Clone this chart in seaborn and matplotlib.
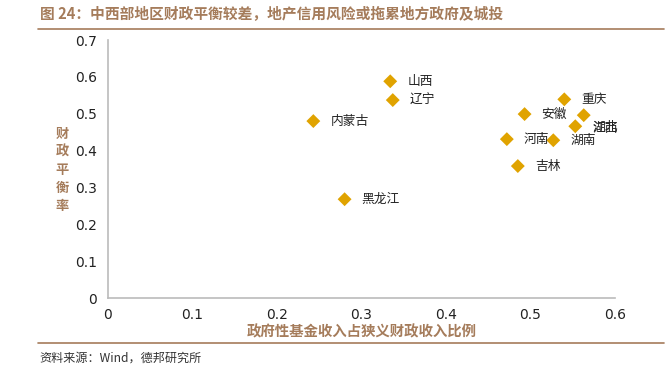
import matplotlib
matplotlib.use("Agg")
import matplotlib.pyplot as plt
import seaborn as sns
import pandas as pd
from matplotlib.lines import Line2D

# 数据：政府性基金收入占狭义财政收入比例 vs 财政平衡率
provinces = ["山西", "辽宁", "内蒙古", "黑龙江", "重庆", "安徽",
             "湖北", "江西", "河南", "湖南", "吉林"]
fund_ratio = [0.334, 0.337, 0.243, 0.280, 0.540, 0.493,
              0.563, 0.553, 0.472, 0.527, 0.485]
balance_ratio = [0.588, 0.537, 0.480, 0.268, 0.539, 0.499,
                 0.496, 0.466, 0.431, 0.428, 0.358]

df = pd.DataFrame({"省份": provinces, "x": fund_ratio, "y": balance_ratio})

BROWN = "#A57C5B"
GOLD = "#E0A300"
W, H = 668, 368

sns.set_style("white")
plt.rcParams["font.family"] = ["Noto Sans CJK SC", "DejaVu Sans"]
plt.rcParams["axes.unicode_minus"] = False

fig = plt.figure(figsize=(W / 100, H / 100), dpi=100)
ax = fig.add_axes([108 / W, 1 - 298 / H, (615 - 108) / W, (298 - 40) / H])

sns.scatterplot(data=df, x="x", y="y", marker="D", color=GOLD,
                s=50, edgecolor="none", ax=ax, legend=False)

# 数据标签（湖北的标签被挤到江西标签处，与原图一样重叠）
for name, xv, yv in zip(provinces, fund_ratio, balance_ratio):
    dx, dy = 17, 0
    if name == "湖北":
        dx, dy = 9, -12
    elif name == "江西":
        dy = -2
    ax.annotate(name, (xv, yv), xytext=(dx, dy), textcoords="offset pixels",
                ha="left", va="center", fontsize=9.2, color="#222222")

ax.set_xlim(0, 0.6)
ax.set_ylim(0, 0.7)
ax.set_xticks([0, 0.1, 0.2, 0.3, 0.4, 0.5, 0.6])
ax.set_xticklabels(["0", "0.1", "0.2", "0.3", "0.4", "0.5", "0.6"])
ax.set_yticks([0, 0.1, 0.2, 0.3, 0.4, 0.5, 0.6, 0.7])
ax.set_yticklabels(["0", "0.1", "0.2", "0.3", "0.4", "0.5", "0.6", "0.7"])
ax.tick_params(axis="both", length=0, labelsize=10, colors="#222222")
ax.tick_params(axis="x", pad=7.5)
ax.tick_params(axis="y", pad=8)
for lab in ax.get_xticklabels() + ax.get_yticklabels():
    lab.set_family("DejaVu Sans")

for side in ["top", "right"]:
    ax.spines[side].set_visible(False)
for side in ["left", "bottom"]:
    ax.spines[side].set_color("#BBBBBB")
    ax.spines[side].set_linewidth(1.2)

ax.set_xlabel("政府性基金收入占狭义财政收入比例", fontsize=10.4, color=BROWN,
              fontweight="bold", va="center")
ax.xaxis.set_label_coords(0.5, (298 - 332) / 258)
ax.set_ylabel("")
fig.text(62 / W, 1 - 170 / H, "财\n政\n平\n衡\n率", ha="center", va="center",
         fontsize=9.5, color=BROWN, fontweight="bold", linespacing=1.38)

# 标题、分隔线、来源
fig.text(40 / W, 1 - 14 / H,
         "图 24：中西部地区财政平衡较差，地产信用风险或拖累地方政府及城投",
         ha="left", va="center", fontsize=10.6, color=BROWN, fontweight="bold")
for yline in [29, 343]:
    fig.add_artist(Line2D([38 / W, 664 / W], [1 - yline / H, 1 - yline / H],
                          color=BROWN, linewidth=1.2, transform=fig.transFigure))
fig.text(39 / W, 1 - 358 / H, "资料来源：Wind，德邦研究所",
         ha="left", va="center", fontsize=8.7, color="#333333")

fig.savefig("out.png", dpi=100)
